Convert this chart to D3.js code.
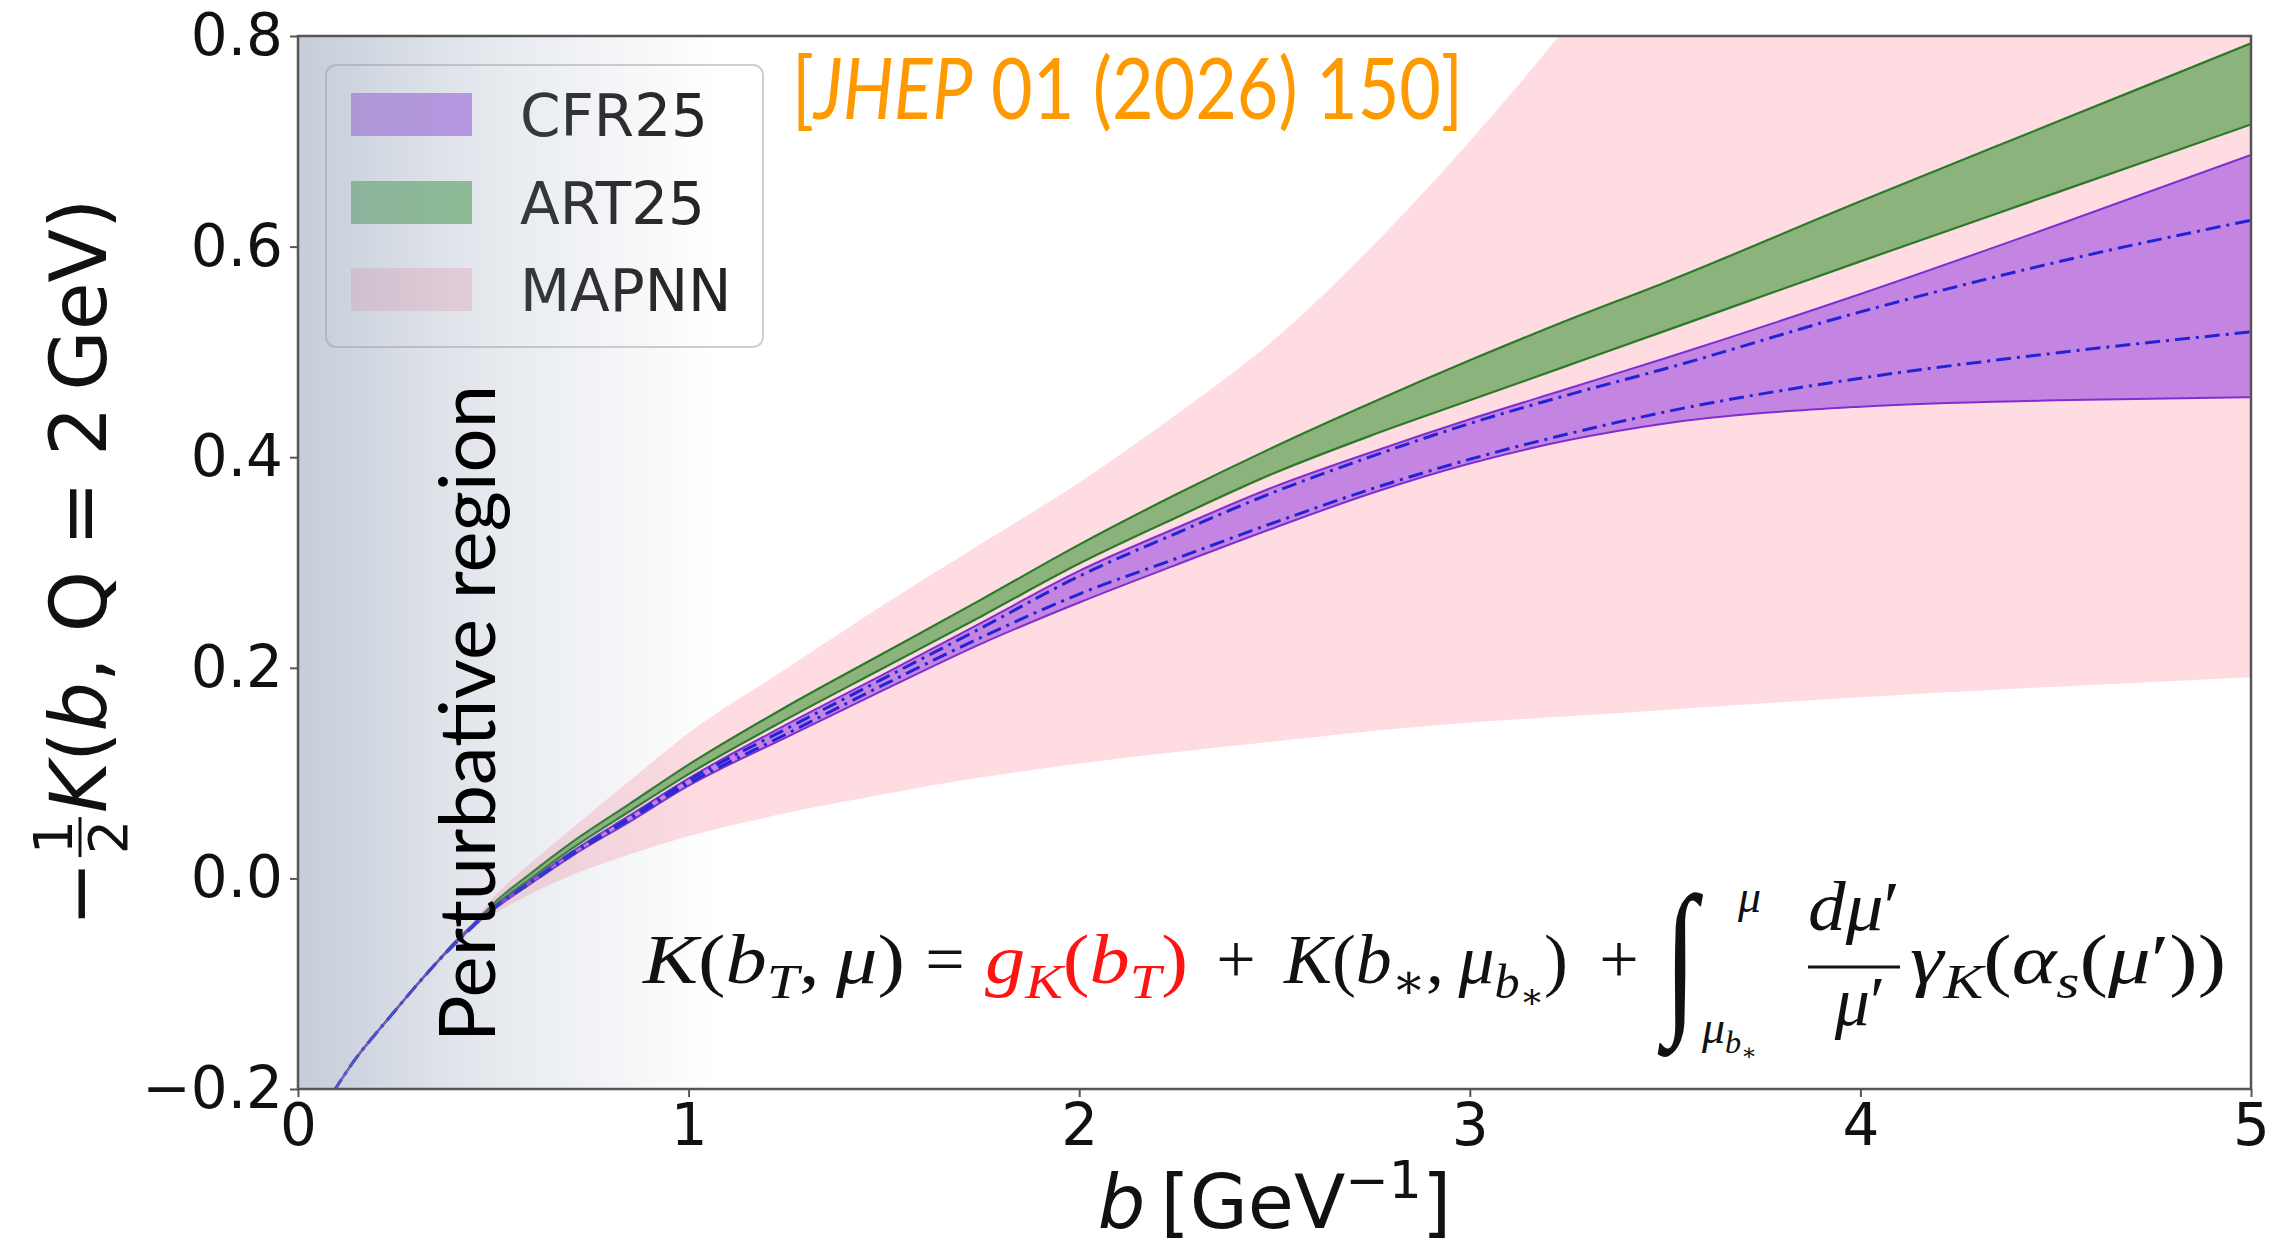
<!DOCTYPE html>
<html>
<head>
<meta charset="utf-8">
<script src="https://cdn.jsdelivr.net/npm/d3@7/dist/d3.min.js"></script>
<style>
  html, body { margin: 0; padding: 0; background: #fff; }
  svg { display: block; }
</style>
</head>
<body>
<div id="chart"></div>
<script>
// b grid [GeV^-1] and the band edges
const bValues = [0.09, 0.15, 0.2, 0.25, 0.3, 0.35, 0.4, 0.45, 0.5, 0.6, 0.7, 0.85, 1.0, 1.25, 1.5, 1.75, 2.0, 2.25, 2.5, 2.75, 3.0, 3.25, 3.5, 4.0, 4.5, 5.0]

const mapnnHigh = [-0.203, -0.170, -0.147, -0.125, -0.103, -0.082, -0.061, -0.040, -0.018, 0.016, 0.047, 0.093, 0.138, 0.199, 0.260, 0.318, 0.376, 0.441, 0.512, 0.600, 0.700, 0.810, 0.93, 1.17, 1.42, 1.68]
const mapnnLow = [-0.203, -0.170, -0.147, -0.125, -0.103, -0.082, -0.063, -0.046, -0.034, -0.014, 0.003, 0.023, 0.040, 0.062, 0.080, 0.096, 0.109, 0.120, 0.130, 0.140, 0.148, 0.154, 0.160, 0.172, 0.182, 0.191]

const art25High = [-0.203, -0.170, -0.147, -0.125, -0.103, -0.082, -0.061, -0.043, -0.024, 0.006, 0.034, 0.071, 0.108, 0.163, 0.214, 0.265, 0.317, 0.365, 0.410, 0.452, 0.492, 0.530, 0.566, 0.643, 0.718, 0.793]
const art25Low = [-0.203, -0.170, -0.147, -0.125, -0.103, -0.082, -0.062, -0.044, -0.027, 0.001, 0.028, 0.064, 0.099, 0.151, 0.200, 0.249, 0.299, 0.343, 0.385, 0.421, 0.454, 0.487, 0.520, 0.586, 0.651, 0.716]

const cfr25High = [-0.203, -0.170, -0.147, -0.125, -0.103, -0.082, -0.062, -0.044, -0.028, -0.001, 0.025, 0.060, 0.095, 0.146, 0.194, 0.243, 0.292, 0.333, 0.372, 0.405, 0.436, 0.465, 0.494, 0.555, 0.620, 0.687]
const cfr25Low = [-0.203, -0.170, -0.147, -0.125, -0.103, -0.082, -0.063, -0.045, -0.030, -0.004, 0.021, 0.054, 0.088, 0.134, 0.179, 0.223, 0.262, 0.298, 0.333, 0.366, 0.394, 0.416, 0.432, 0.448, 0.454, 0.457]
// the two dash-dot curves inside the CFR25 band
const cfr25DashHigh = [-0.203, -0.170, -0.147, -0.125, -0.103, -0.082, -0.062, -0.044, -0.028, -0.002, 0.024, 0.058, 0.093, 0.142, 0.190, 0.238, 0.287, 0.328, 0.367, 0.401, 0.432, 0.459, 0.484, 0.538, 0.585, 0.625]
const cfr25DashLow = [-0.203, -0.170, -0.147, -0.125, -0.103, -0.082, -0.063, -0.045, -0.029, -0.003, 0.022, 0.056, 0.090, 0.137, 0.184, 0.229, 0.270, 0.304, 0.338, 0.370, 0.398, 0.422, 0.443, 0.475, 0.499, 0.519]

const xTicks = [0, 1, 2, 3, 4, 5]
const yTicks = [-0.2, 0.0, 0.2, 0.4, 0.6, 0.8]
const legendLabels = ['CFR25', 'ART25', 'MAPNN']
const perturbativeEnd = 1.08

const width = 2277
const height = 1246
const plot = { left: 298, right: 2251, top: 36, bottom: 1089 }

const colors = {
  mapnn: '#ffc0cb',
  art: '#008000',
  artEdge: '#2b7a2b',
  cfr: '#8a2be2',
  cfrEdge: '#7f2fd0',
  dash: '#2323d6',
  shade: '#8c9bb3',
}

const svg = d3.select('#chart').append('svg')
  .attr('width', width)
  .attr('height', height)
  .attr('viewBox', [0, 0, width, height])

const x = d3.scaleLinear().domain([0, 5]).range([plot.left, plot.right])
const y = d3.scaleLinear().domain([-0.2, 0.8]).range([plot.bottom, plot.top])

const defs = svg.append('defs')
defs.append('clipPath').attr('id', 'plot-clip')
  .append('rect')
  .attr('x', plot.left).attr('y', plot.top)
  .attr('width', plot.right - plot.left).attr('height', plot.bottom - plot.top)

const grad = defs.append('linearGradient')
  .attr('id', 'pert-grad')
  .attr('gradientUnits', 'userSpaceOnUse')
  .attr('x1', x(0)).attr('x2', x(perturbativeEnd))
  .attr('y1', 0).attr('y2', 0)
grad.append('stop').attr('offset', 0).attr('stop-color', colors.shade).attr('stop-opacity', 0.5)
grad.append('stop').attr('offset', 0.45).attr('stop-color', colors.shade).attr('stop-opacity', 0.22)
grad.append('stop').attr('offset', 1).attr('stop-color', colors.shade).attr('stop-opacity', 0)

const rows = bValues.map((b, i) => ({
  b,
  mapnnLo: mapnnLow[i], mapnnHi: mapnnHigh[i],
  artLo: art25Low[i], artHi: art25High[i],
  cfrLo: cfr25Low[i], cfrHi: cfr25High[i],
  dashLo: cfr25DashLow[i], dashHi: cfr25DashHigh[i],
}))

const g = svg.append('g').attr('clip-path', 'url(#plot-clip)')

function band(lo, hi) {
  return d3.area()
    .x(d => x(d.b))
    .y0(d => y(d[lo]))
    .y1(d => y(d[hi]))
    .curve(d3.curveMonotoneX)
}
function edge(key) {
  return d3.line()
    .x(d => x(d.b))
    .y(d => y(d[key]))
    .curve(d3.curveMonotoneX)
}

// MAPNN
g.append('path').datum(rows)
  .attr('d', band('mapnnLo', 'mapnnHi'))
  .attr('fill', colors.mapnn).attr('fill-opacity', 0.55)

// ART25
g.append('path').datum(rows)
  .attr('d', band('artLo', 'artHi'))
  .attr('fill', colors.art).attr('fill-opacity', 0.45)
;['artLo', 'artHi'].forEach(k => {
  g.append('path').datum(rows)
    .attr('d', edge(k))
    .attr('fill', 'none').attr('stroke', colors.artEdge).attr('stroke-width', 2.2)
})

// CFR25
g.append('path').datum(rows)
  .attr('d', band('cfrLo', 'cfrHi'))
  .attr('fill', colors.cfr).attr('fill-opacity', 0.5)
;['cfrLo', 'cfrHi'].forEach(k => {
  g.append('path').datum(rows)
    .attr('d', edge(k))
    .attr('fill', 'none').attr('stroke', colors.cfrEdge).attr('stroke-width', 2)
})
;['dashLo', 'dashHi'].forEach(k => {
  g.append('path').datum(rows)
    .attr('d', edge(k))
    .attr('fill', 'none').attr('stroke', colors.dash).attr('stroke-width', 3)
    .attr('stroke-dasharray', '15,6,3,6')
})

// legend box and patches (under the shading, like the original)
const legend = svg.append('g')
legend.append('rect')
  .attr('x', 326).attr('y', 65).attr('width', 437).attr('height', 282).attr('rx', 10)
  .attr('fill', '#fff').attr('fill-opacity', 0.8)
  .attr('stroke', '#cfcfcf').attr('stroke-width', 2)
const legendFill = [
  { color: colors.cfr, op: 0.5 },
  { color: colors.art, op: 0.45 },
  { color: colors.mapnn, op: 0.55 },
]
const legendRowY = [93, 181, 268]
legendLabels.forEach((lab, i) => {
  legend.append('rect')
    .attr('x', 351).attr('y', legendRowY[i]).attr('width', 121).attr('height', 43)
    .attr('fill', legendFill[i].color).attr('fill-opacity', legendFill[i].op)
})

// perturbative shading
svg.append('rect')
  .attr('x', plot.left).attr('y', plot.top)
  .attr('width', plot.right - plot.left).attr('height', plot.bottom - plot.top)
  .attr('fill', 'url(#pert-grad)')

legendLabels.forEach((lab, i) => {
  legend.append('text')
    .attr('x', 520).attr('y', legendRowY[i] + 43)
    .attr('font-family', '"DejaVu Sans", sans-serif').attr('font-size', 58)
    .attr('fill', '#222')
    .text(lab)
})

svg.append('text')
  .attr('transform', 'translate(495,1042) rotate(-90)')
  .attr('font-family', 'Lato, "Open Sans", sans-serif').attr('font-size', 78)
  .attr('textLength', 657).attr('lengthAdjust', 'spacingAndGlyphs')
  .attr('fill', '#000')
  .text('Perturbative region')

// journal reference
const jhep = svg.append('text')
  .attr('x', 792).attr('y', 119)
  .attr('font-family', 'Lato, "Open Sans", sans-serif').attr('font-size', 86)
  .attr('fill', '#ff9900')
  .attr('textLength', 671).attr('lengthAdjust', 'spacingAndGlyphs')
jhep.append('tspan').text('[')
jhep.append('tspan').attr('font-style', 'italic').text('JHEP')
jhep.append('tspan').text(' 01  (2026)  150]')

// formula
const mathSize = 70
function mathText(parent, px, py, parts, size, color, anchor, len) {
  const t = parent.append('text')
    .attr('x', px).attr('y', py)
    .attr('font-family', '"Liberation Serif", "DejaVu Serif", serif')
    .attr('font-size', size)
    .attr('fill', color || '#111')
    .attr('text-anchor', anchor || 'start')
  if (len) t.attr('textLength', len).attr('lengthAdjust', 'spacingAndGlyphs')
  const shift = [0, 0.22, 0.36]
  const scale = [1, 0.7, 0.5]
  let prev = 0
  parts.forEach(p => {
    const [txt, it, lvl = 0] = p
    t.append('tspan')
      .attr('dy', (shift[lvl] - shift[prev]) * size)
      .attr('font-size', size * scale[lvl])
      .attr('font-style', it ? 'italic' : 'normal')
      .text(txt)
    prev = lvl
  })
  return t
}

const fm = svg.append('g')
const base = 983
mathText(fm, 643, base, [['K', 1], ['('], ['b', 1], ['T', 1, 1], [',\u2009'], ['μ', 1], [')']], mathSize, '#111', 'start', 262)
mathText(fm, 945, base, [['=']], mathSize, '#111', 'middle')
mathText(fm, 985, base, [['g', 1], ['K', 1, 1], ['('], ['b', 1], ['T', 1, 1], [')']], mathSize, '#ff1414', 'start', 203)
mathText(fm, 1236, base, [['+']], mathSize, '#111', 'middle')
mathText(fm, 1284, base, [['K', 1], ['('], ['b', 1], ['∗', 0, 1], [',\u2009'], ['μ', 1], ['b', 1, 1], ['∗', 0, 2], [')']], mathSize, '#111', 'start', 284)
mathText(fm, 1619, base, [['+']], mathSize, '#111', 'middle')
fm.append('text')
  .attr('transform', 'translate(1664,1012) scale(0.8,1.12)')
  .attr('font-family', '"Liberation Serif", "DejaVu Serif", serif').attr('font-size', 150)
  .attr('font-style', 'italic')
  .attr('fill', '#111')
  .text('∫')
mathText(fm, 1738, 912, [['μ', 1]], 46)
mathText(fm, 1702, 1043, [['μ', 1], ['b', 1, 1], ['∗', 0, 2]], 46)
mathText(fm, 1854, 930, [['d', 1], ['μ', 1], ['′']], mathSize, '#111', 'middle', 92)
fm.append('line')
  .attr('x1', 1808).attr('x2', 1900).attr('y1', 967).attr('y2', 967)
  .attr('stroke', '#111').attr('stroke-width', 3)
mathText(fm, 1860, 1025, [['μ', 1], ['′']], mathSize, '#111', 'middle')
mathText(fm, 1910, base, [['γ', 1], ['K', 1, 1], ['('], ['α', 1], ['s', 1, 1], ['('], ['μ', 1], ['′'], [')'], [')']], mathSize, '#111', 'start', 316)

// axes
const tickFont = '"DejaVu Sans", sans-serif'
const xAxis = svg.append('g')
  .attr('transform', `translate(0,${plot.bottom})`)
  .call(d3.axisBottom(x).tickValues(xTicks).tickFormat(d3.format('d')).tickSize(8).tickPadding(7))
const yAxis = svg.append('g')
  .attr('transform', `translate(${plot.left},0)`)
  .call(d3.axisLeft(y).tickValues(yTicks).tickFormat(d3.format('.1f')).tickSize(8).tickPadding(7))
;[xAxis, yAxis].forEach(a => {
  a.select('.domain').remove()
  a.selectAll('line').attr('stroke', '#555').attr('stroke-width', 2)
  a.selectAll('text').attr('font-family', tickFont).attr('font-size', 58).attr('fill', '#111')
})

svg.append('rect')
  .attr('x', plot.left).attr('y', plot.top)
  .attr('width', plot.right - plot.left).attr('height', plot.bottom - plot.top)
  .attr('fill', 'none').attr('stroke', '#555').attr('stroke-width', 2.5)

// x label
const xl = svg.append('text')
  .attr('x', (plot.left + plot.right) / 2).attr('y', 1228)
  .attr('text-anchor', 'middle')
  .attr('font-family', tickFont).attr('font-size', 75).attr('fill', '#111')
xl.append('tspan').attr('font-style', 'italic').text('b')
xl.append('tspan').text('\u2009[GeV')
xl.append('tspan').attr('font-size', 52).attr('dy', -30).text('−1')
xl.append('tspan').attr('dy', 30).text(']')

// y label, laid out piece by piece then centred
const ylG = svg.append('g').attr('transform', `translate(106,${(plot.top + plot.bottom) / 2}) rotate(-90)`)
const ylIn = ylG.append('g')
let cursor = 0
function piece(txt, opts = {}) {
  const t = ylIn.append('text')
    .attr('x', cursor).attr('y', 0)
    .attr('font-family', tickFont).attr('font-size', opts.size || 78)
    .attr('font-style', opts.italic ? 'italic' : 'normal')
    .attr('fill', '#111')
    .text(txt)
  cursor += t.node().getComputedTextLength() + (opts.gap || 0)
}
piece('−', { gap: 4 })
const fracW = 40
const axisY = -26
ylIn.append('text').attr('x', cursor + fracW / 2).attr('y', axisY - 8)
  .attr('text-anchor', 'middle').attr('font-family', tickFont).attr('font-size', 54).attr('fill', '#111').text('1')
ylIn.append('line').attr('x1', cursor).attr('x2', cursor + fracW).attr('y1', axisY).attr('y2', axisY)
  .attr('stroke', '#111').attr('stroke-width', 3)
ylIn.append('text').attr('x', cursor + fracW / 2).attr('y', axisY + 8 + 39)
  .attr('text-anchor', 'middle').attr('font-family', tickFont).attr('font-size', 54).attr('fill', '#111').text('2')
cursor += fracW + 4
piece('K', { italic: true })
piece('(')
piece('b', { italic: true })
piece(', Q = 2\u2009GeV)')
ylIn.attr('transform', `translate(${-cursor / 2},0)`)
</script>
</body>
</html>
